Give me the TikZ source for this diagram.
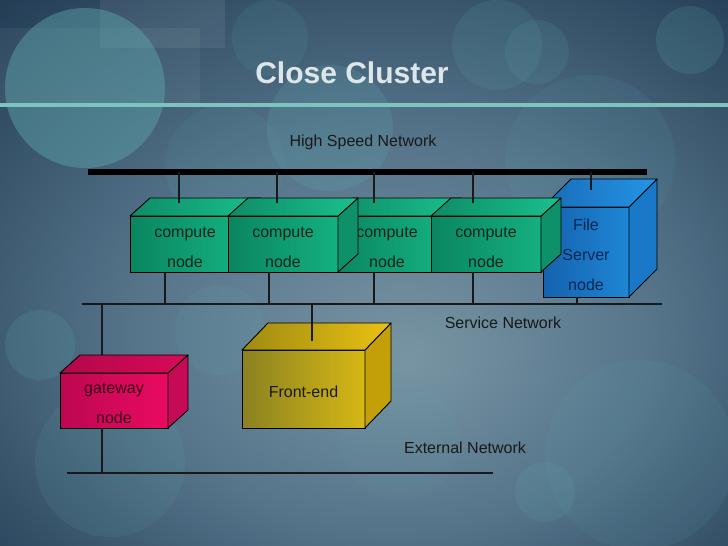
\documentclass[tikz,border=0pt]{standalone}
\usepackage{fontspec}
\setmainfont{Liberation Sans}
\usetikzlibrary{calc}
\definecolor{bgin}{HTML}{7895A3}
\definecolor{bgmid}{HTML}{55748A}
\definecolor{bgout}{HTML}{1E3850}
\definecolor{glow}{HTML}{5FA8AE}
\definecolor{tealline}{HTML}{7FC3BD}
\definecolor{titlecol}{HTML}{DDE6E8}
% compute
\definecolor{cmF1}{HTML}{0A8560}\definecolor{cmF2}{HTML}{14B080}
\definecolor{cmT1}{HTML}{0E8C66}\definecolor{cmT2}{HTML}{1AC08E}
\definecolor{cmS}{HTML}{0E9068}\definecolor{cmTxt}{HTML}{08241D}
% file server
\definecolor{fsF1}{HTML}{1562AE}\definecolor{fsF2}{HTML}{1E86D6}
\definecolor{fsT1}{HTML}{196CB8}\definecolor{fsT2}{HTML}{2494E6}
\definecolor{fsS}{HTML}{1A78C8}\definecolor{fsTxt}{HTML}{0A2650}
% gateway
\definecolor{gwF1}{HTML}{BC0850}\definecolor{gwF2}{HTML}{EA0A62}
\definecolor{gwT1}{HTML}{B2084A}\definecolor{gwT2}{HTML}{D80A58}
\definecolor{gwS}{HTML}{C60A55}\definecolor{gwTxt}{HTML}{3A0516}
% front-end
\definecolor{feF1}{HTML}{8A8222}\definecolor{feF2}{HTML}{D6B814}
\definecolor{feT1}{HTML}{9E8A12}\definecolor{feT2}{HTML}{EAC212}
\definecolor{feS}{HTML}{C4A008}\definecolor{feTxt}{HTML}{1A1A0A}
\pgfdeclareradialshading{bgshade}{\pgfpoint{3bp}{-8bp}}{color(0bp)=(bgin); color(18bp)=(bgmid); color(40bp)=(bgout); color(60bp)=(bgout)}
\tikzset{
  face/.style={draw=black, line width=0.9pt, rectangle, inner sep=0pt, outer sep=0pt,
    align=center, font=\fontsize{16}{30}\selectfont},
  boxedge/.style={draw=black, line width=0.9pt, line join=round},
  wire/.style={draw=black!90, line width=1.3pt},
  lbl/.style={font=\fontsize{16}{19}\selectfont, text=black!90, inner sep=0pt},
  blob/.style={fill=glow, opacity=#1},
}
% #1 name, #2 cx, #3 cy, #4 w, #5 h, #6 dx, #7 dy, #8 colour prefix, #9 text
\newcommand\cuboid[9]{%
  \node[face, minimum width=#4pt, minimum height=#5pt, left color=#8F1, right color=#8F2, text=#8Txt] (#1) at (#2,#3) {\rule{0pt}{17pt}#9};
  \filldraw[boxedge, fill=#8S] (#1.north east) -- ++(#6,#7) -- ($(#1.south east)+(#6,#7)$) -- (#1.south east) -- cycle;
  \shadedraw[boxedge, left color=#8T1, right color=#8T2] (#1.north west) -- ++(#6,#7) -- ($(#1.north east)+(#6,#7)$) -- (#1.north east) -- cycle;
}
\begin{document}
\begin{tikzpicture}[x=1pt,y=-1pt]
\useasboundingbox (0,0) rectangle (728,546);
% background
\shade[shading=bgshade] (0,0) rectangle (728,546);
\fill[white, opacity=0.07] (100,0) rectangle (225,48);
\fill[white, opacity=0.05] (0,28) rectangle (200,105);
\fill[blob=0.45] (85,88) circle (80);
\fill[blob=0.22] (330,128) circle (63);
\fill[blob=0.12] (270,38) circle (38);
\fill[blob=0.14] (497,45) circle (45);
\fill[blob=0.14] (537,52) circle (32);
\fill[blob=0.18] (690,40) circle (34);
\fill[blob=0.10] (590,160) circle (85);
\fill[blob=0.10] (225,165) circle (60);
\fill[blob=0.18] (40,345) circle (35);
\fill[blob=0.12] (110,462) circle (75);
\fill[blob=0.12] (220,330) circle (45);
\fill[blob=0.10] (640,455) circle (95);
\fill[blob=0.16] (545,492) circle (30);
\fill[blob=0.08] (400,440) circle (60);
% title
\draw[tealline, line width=4pt] (0,105) -- (728,105);
\node[font=\fontsize{30}{34}\bfseries, text=titlecol] (title) at (352,73) {Close Cluster};
% networks
\coordinate (hsL) at (88,172); \coordinate (hsR) at (647,172);
\coordinate (svL) at (82,304); \coordinate (svR) at (662,304);
\coordinate (exL) at (67,473); \coordinate (exR) at (493,473);
\draw[black, line width=6pt] (hsL) -- (hsR);
\draw[wire] (svL) -- (svR);
\draw[wire] (exL) -- (exR);
\node[lbl] (hsn) at (363,142) {High Speed Network};
\node[lbl] (svn) at (503,323) {Service Network};
\node[lbl] (exn) at (465,448) {External Network};
% boxes
\cuboid{fs}{586}{252}{86}{90}{28}{-28}{fs}{File\\Server\\node}
\cuboid{c3}{387}{244}{108}{56}{20}{-18}{cm}{compute\\node}
\cuboid{c1}{185}{244}{110}{56}{20}{-18}{cm}{compute\\node}
\cuboid{c2}{283}{244}{110}{56}{20}{-18}{cm}{compute\\node}
\cuboid{c4}{486}{244}{110}{56}{20}{-18}{cm}{compute\\node}
% gateway connector (behind)
\coordinate (gwt) at (102,355);
\draw[wire] (gwt |- svL) -- (gwt);
\cuboid{gw}{114}{400.5}{108}{55}{20}{-18}{gw}{gateway\\node}
\cuboid{fe}{303.5}{389}{123}{78}{26}{-27}{fe}{Front-end}
% connectors
\coordinate (c1t) at ([xshift=-6pt,yshift=13pt]c1.north);
\coordinate (c2t) at ([xshift=-6pt,yshift=13pt]c2.north);
\coordinate (c3t) at ([xshift=-13pt,yshift=13pt]c3.north);
\coordinate (c4t) at ([xshift=-13pt,yshift=13pt]c4.north);
\coordinate (fst) at ([xshift=5pt,yshift=17pt]fs.north);
\foreach \n in {c1t,c2t,c3t,c4t,fst} \draw[wire] (\n |- hsL) -- (\n);
\coordinate (c1b) at ([xshift=-20pt]c1.south);
\coordinate (c2b) at ([xshift=-14pt]c2.south);
\coordinate (c3b) at ([xshift=-13pt]c3.south);
\coordinate (c4b) at ([xshift=-13pt]c4.south);
\coordinate (fsb) at ([xshift=-9pt]fs.south);
\foreach \n in {c1b,c2b,c3b,c4b,fsb} \draw[wire] (\n) -- (\n |- svL);
\coordinate (fet) at ([xshift=8.5pt,yshift=9pt]fe.north);
\draw[wire] (fet |- svL) -- (fet);
\coordinate (gwb) at ([xshift=-12pt]gw.south);
\draw[wire] (gwb) -- (gwb |- exL);
\end{tikzpicture}
\end{document}
